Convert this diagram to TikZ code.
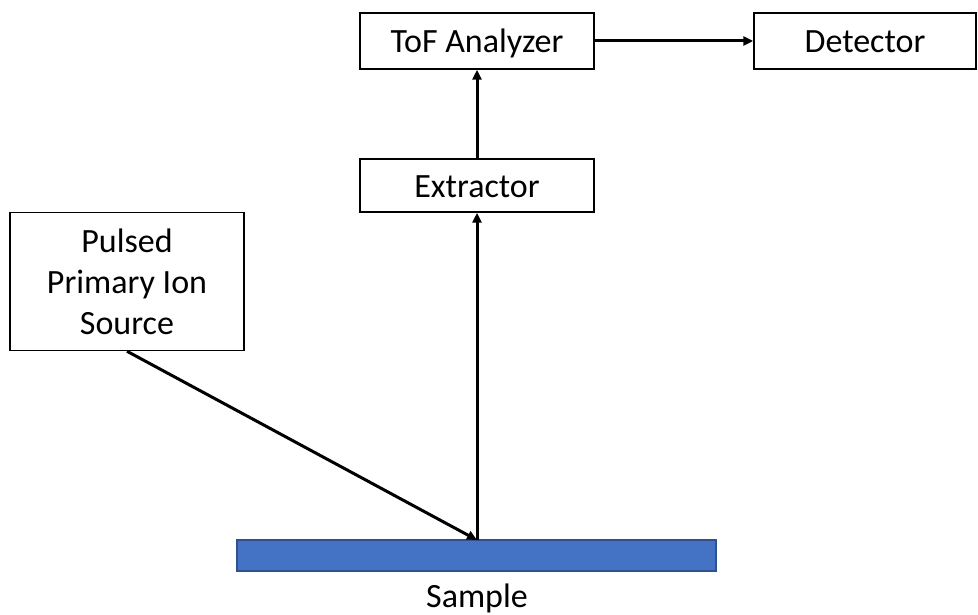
\documentclass[tikz,border=0pt]{standalone}
\usepackage{fontspec}
\setmainfont{Carlito}
\usetikzlibrary{arrows.meta}
\definecolor{samplefill}{HTML}{4472C4}
\definecolor{sampledraw}{HTML}{2F528F}
\begin{document}
\begin{tikzpicture}[x=1pt,y=-1pt,
  box/.style={draw=black,line width=1.5pt,fill=white,inner sep=0pt,font=\fontsize{34}{41}\selectfont},
  onel/.style={box,text height=25pt,text depth=1pt},
  conn/.style={line width=3pt,-{Triangle[length=10pt,width=9pt]}}]
\useasboundingbox (0,0) rectangle (978,615);
\node[onel,minimum width=234pt,minimum height=56pt] (tof) at (477,41) {ToF Analyzer};
\node[onel,minimum width=222pt,minimum height=56pt] (det) at (865,41) {Detector};
\node[onel,minimum width=234pt,minimum height=53pt] (ext) at (477,185.5) {Extractor};
\node[box,align=center,minimum width=234pt,minimum height=138pt] (src) at (127,281.5) {Pulsed\\Primary Ion\\Source};
\node[draw=sampledraw,fill=samplefill,line width=1.2pt,minimum width=479pt,minimum height=31pt,inner sep=0pt] (sample) at (476.5,555.5) {};
\node[font=\fontsize{34}{41}\selectfont,text height=25pt,text depth=1pt,inner sep=0pt] (lbl) at (477,595) {Sample};
\coordinate (hit) at (477,540);
\draw[conn] (src.south) -- (hit);
\draw[conn] (hit) -- (ext.south);
\draw[conn] (ext.north) -- (tof.south);
\draw[conn] (tof.east) -- (det.west);
\end{tikzpicture}
\end{document}
